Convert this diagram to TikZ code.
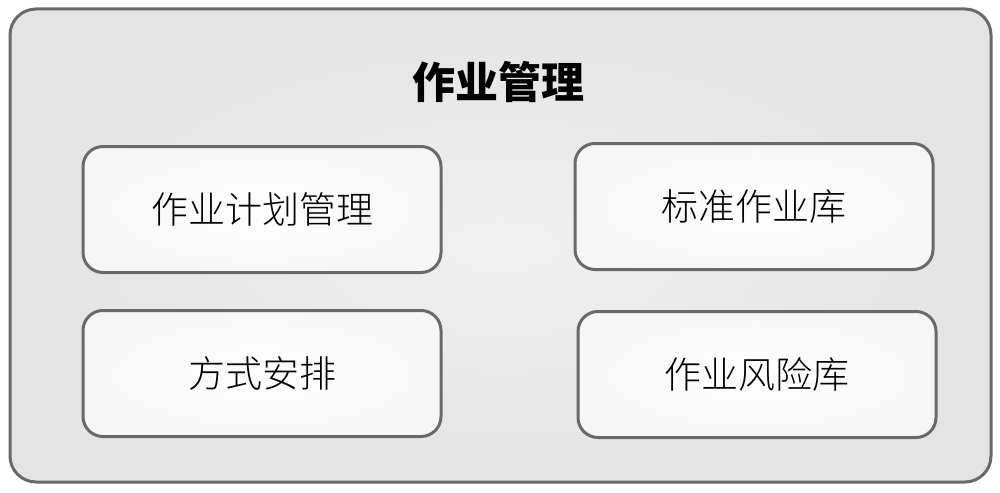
\documentclass[tikz,border=0pt]{standalone}
\usepackage{fontspec}
\newfontfamily\cjk{Noto Sans CJK SC}
\newfontfamily\cjklight{Noto Sans CJK SC Light}
\definecolor{edge}{RGB}{105,105,105}
\definecolor{outerfill}{RGB}{228,228,228}
\definecolor{outerin}{RGB}{240,240,240}
\definecolor{innerfill}{RGB}{246,246,246}
\tikzset{
  itembox/.style={draw=edge, line width=3pt, rounded corners=20pt, inner color=white, outer color=innerfill,
    minimum width=358pt, minimum height=126pt, inner sep=0pt, font=\cjklight\fontsize{37}{40}\selectfont},
  titletext/.style={font=\cjk\bfseries\fontsize{43}{46}\selectfont, inner sep=0pt}
}
\begin{document}
\begin{tikzpicture}[x=1pt,y=-1pt]
\useasboundingbox (0,0) rectangle (1000,492);
\shade[inner color=outerin, outer color=outerfill, draw=edge, line width=3pt, rounded corners=26pt]
  (10,9) rectangle (991,482);
\node[titletext] (title) at (498,82) {作业管理};
\node[itembox] (a) at (262,209.5) {作业计划管理};
\node[itembox] (b) at (754,206.5) {标准作业库};
\node[itembox] (c) at (262,373.5) {方式安排};
\node[itembox] (d) at (757,374.5) {作业风险库};
\end{tikzpicture}
\end{document}
